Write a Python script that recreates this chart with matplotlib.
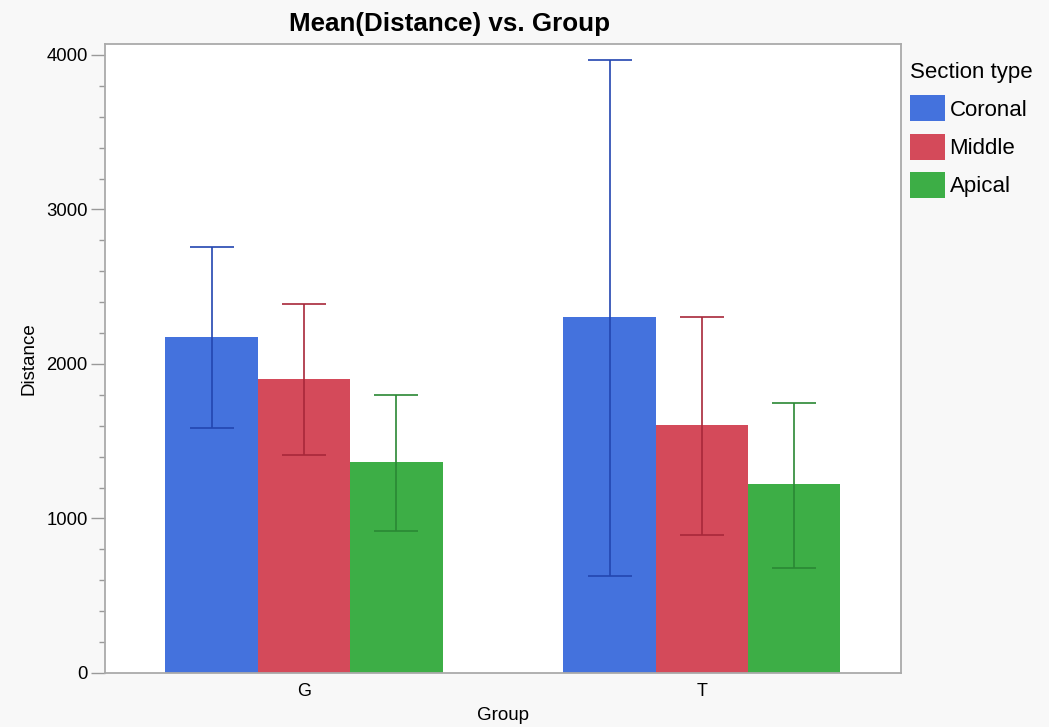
import matplotlib
matplotlib.use("Agg")
import matplotlib.pyplot as plt
import numpy as np
from matplotlib.ticker import MultipleLocator
from matplotlib.patches import Patch

groups = ["G", "T"]
section_types = ["Coronal", "Middle", "Apical"]
means = {
    "Coronal": [2175, 2304],
    "Middle": [1903, 1605],
    "Apical": [1366, 1223],
}
err_low = {
    "Coronal": [1586, 628],
    "Middle": [1411, 893],
    "Apical": [919, 680],
}
err_high = {
    "Coronal": [2757, 3968],
    "Middle": [2388, 2304],
    "Apical": [1799, 1748],
}

colors = {"Coronal": "#4472DD", "Middle": "#D44A5A", "Apical": "#3DAE46"}
ecolors = {"Coronal": "#2346B0", "Middle": "#A8283A", "Apical": "#2A8834"}

plt.rcParams['font.family'] = ['Liberation Sans', 'DejaVu Sans']

fig = plt.figure(figsize=(10.49, 7.27), dpi=100, facecolor="#f8f8f8")
ax = fig.add_axes([0.1001, 0.0743, 0.7588, 0.8652])
ax.set_facecolor("white")

x = np.arange(len(groups))
w = 0.232
for i, s in enumerate(section_types):
    pos = x + (i - 1) * w
    m = np.array(means[s])
    lo = m - np.array(err_low[s])
    hi = np.array(err_high[s]) - m
    ax.bar(pos, m, width=w, color=colors[s], edgecolor="none", zorder=2)
    ax.errorbar(pos, m, yerr=[lo, hi], fmt="none", ecolor=ecolors[s],
                elinewidth=1.2, capsize=16, capthick=1.2, zorder=3)

ax.set_xlim(-0.5, 1.5)
ax.set_ylim(0, 4071)
ax.set_xticks(x)
ax.set_xticklabels(groups)
ax.yaxis.set_major_locator(MultipleLocator(1000))
ax.yaxis.set_minor_locator(MultipleLocator(200))
ax.tick_params(axis="x", length=0, labelsize=13, pad=7)
ax.tick_params(axis="y", which="major", length=10, width=1, color="#999999", labelsize=13.3, pad=2.5)
ax.tick_params(axis="y", which="minor", length=4, width=1, color="#999999")
for sp in ax.spines.values():
    sp.set_color("#aaaaaa")
    sp.set_linewidth(1.3)

ax.set_xlabel("Group", fontsize=13.5, labelpad=5)
ax.set_ylabel("Distance", fontsize=13.5, labelpad=6)
fig.text(450 / 1049, 1 - 31 / 727, "Mean(Distance) vs. Group", fontsize=18.7,
         fontweight="bold", ha="center", va="baseline")

handles = [Patch(facecolor=colors[s], edgecolor="none", label=s) for s in section_types]
leg = fig.legend(handles=handles, title="Section type", loc="upper left",
                 bbox_to_anchor=(910 / 1049, 1 - 62 / 727), frameon=False, fontsize=16,
                 title_fontsize=16, handlelength=1.58, handleheight=1.43,
                 handletextpad=0.2, labelspacing=0.55, borderpad=0.0,
                 borderaxespad=0.0)
leg._legend_box.align = "left"

fig.savefig("out.png", dpi=100, facecolor=fig.get_facecolor())
